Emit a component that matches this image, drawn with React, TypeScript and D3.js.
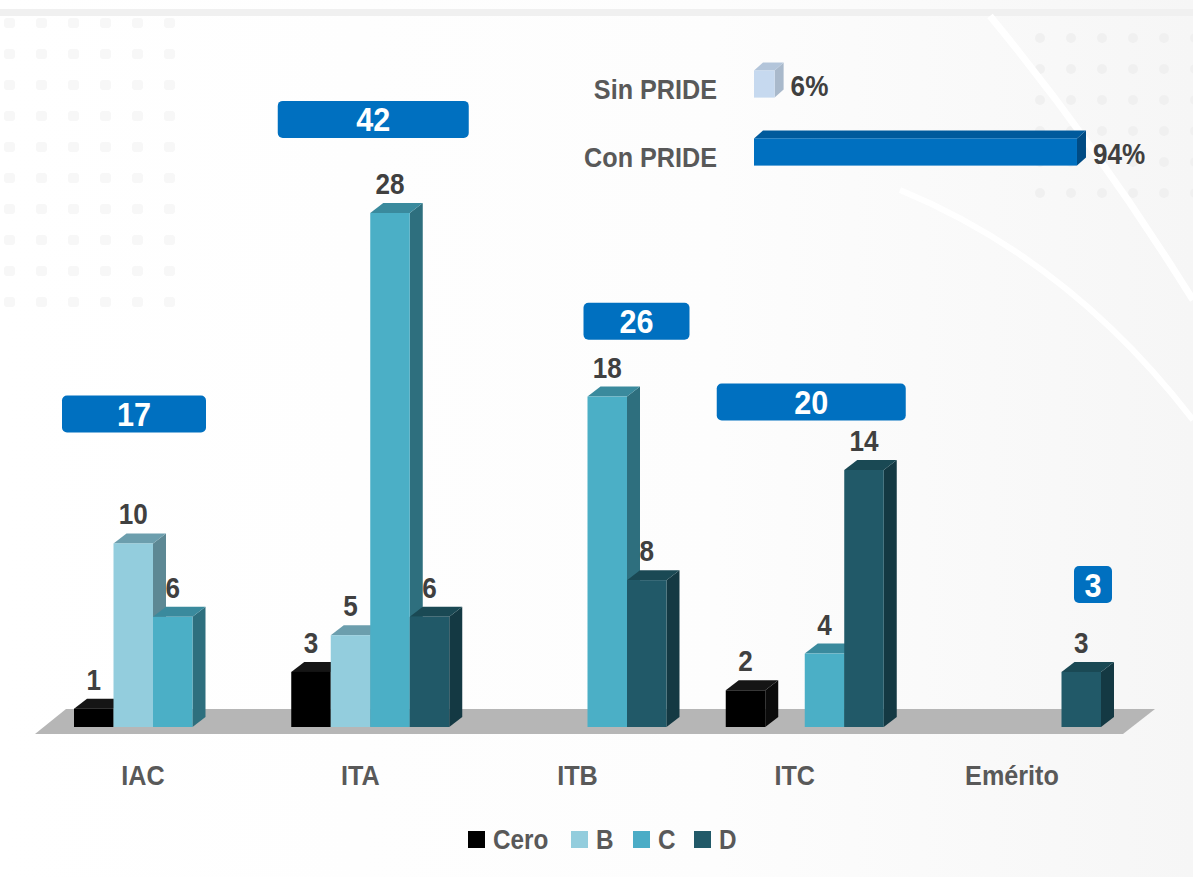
import React from "react";
import * as d3 from "d3";

// ── Data ──────────────────────────────────────────────────────────────────────

const categories = ["IAC", "ITA", "ITB", "ITC", "Emérito"];
const seriesNames = ["Cero", "B", "C", "D"];
const ceroValues: (number | null)[] = [1, 3, null, 2, null];
const bValues: (number | null)[] = [10, 5, null, null, null];
const cValues: (number | null)[] = [6, 28, 18, 4, null];
const dValues: (number | null)[] = [null, 6, 8, 14, 3];
const totals = [17, 42, 26, 20, 3];

const prideLabels = ["Sin PRIDE", "Con PRIDE"];
const prideValues = [6, 94];

// ── Layout / style ────────────────────────────────────────────────────────────

const W = 1193;
const H = 877;
const FONT = "'Liberation Sans', Arial, sans-serif";
const NARROW = 0.9; // horizontal squeeze to mimic a narrow bold face
const DX = 13; // bar depth
const DY = 10;

// total boxes: width, vertical level (data units) and horizontal shift from group center
const totalBoxWidth = [144, 191, 106, 189, 38];
const totalBoxLevel = [17.05, 33.1, 22.1, 17.7, 7.76];
const totalBoxShift = [-19, 3, 49, 6.5, 71];

const SERIES_COLORS: Record<string, { front: string; top: string; side: string; legend: string }> = {
  Cero: { front: "#000000", top: "#151515", side: "#0b0b0b", legend: "#000000" },
  B: { front: "#93cddd", top: "#6c9ead", side: "#5d8894", legend: "#93cddd" },
  C: { front: "#4bafc6", top: "#3a8a9d", side: "#2e6f7e", legend: "#4bacc6" },
  D: { front: "#215968", top: "#1a4954", side: "#143943", legend: "#215968" },
};

const PRIDE_COLORS = [
  { front: "#c6d9ef", top: "#b3c5da", side: "#a9b9cb" },
  { front: "#0070c0", top: "#005a9c", side: "#004b84" },
];

const seriesValues = [ceroValues, bValues, cValues, dValues];

// ── Helpers ───────────────────────────────────────────────────────────────────

function NText({
  x,
  y,
  size,
  fill,
  anchor = "start",
  children,
}: {
  x: number;
  y: number;
  size: number;
  fill: string;
  anchor?: "start" | "middle" | "end";
  children: React.ReactNode;
}) {
  return (
    <text
      transform={`translate(${x},${y}) scale(${NARROW},1)`}
      textAnchor={anchor}
      fontSize={size}
      fontWeight="bold"
      fill={fill}
    >
      {children}
    </text>
  );
}

function bar3d(
  key: string,
  bx: number,
  bw: number,
  top: number,
  bottom: number,
  col: { front: string; top: string; side: string },
  dx: number,
  dy: number
) {
  return (
    <g key={key}>
      <polygon
        points={`${bx + bw},${top} ${bx + bw + dx},${top - dy} ${bx + bw + dx},${bottom - dy} ${bx + bw},${bottom}`}
        fill={col.side}
      />
      <polygon
        points={`${bx},${top} ${bx + dx},${top - dy} ${bx + bw + dx},${top - dy} ${bx + bw},${top}`}
        fill={col.top}
      />
      <rect x={bx} y={top} width={bw} height={bottom - top} fill={col.front} />
    </g>
  );
}

// ── Component ─────────────────────────────────────────────────────────────────

export default function App() {
  const x = d3
    .scaleBand<string>()
    .domain(categories)
    .range([74, 1101])
    .paddingInner(0.2727)
    .paddingOuter(0);
  const slot = d3.scaleBand<string>().domain(seriesNames).range([0, x.bandwidth()]);
  const y = d3.scaleLinear().domain([0, 28]).range([727, 213]);
  const base = y(0);

  const [rx0, rx1] = x.range();
  const floor = [
    [rx0 - 39, base + 7],
    [rx1 + 22, base + 7],
    [rx1 + 22 + 32, base - 18],
    [rx0 - 39 + 31, base - 18],
  ];

  const xP = d3.scaleLinear().domain([0, 100]).range([754, 1097.6]);
  const yP = d3
    .scaleBand<string>()
    .domain(prideLabels)
    .range([50, 186])
    .paddingInner(0.6)
    .paddingOuter(0.3);

  // faint background dots
  const dotsLeft = d3.range(0, 6).flatMap((c) => d3.range(0, 10).map((r) => [4 + c * 32, 18 + r * 31]));
  const dotsRight = d3.range(0, 6).flatMap((c) => d3.range(0, 6).map((r) => [1040 + c * 31, 38 + r * 31]));

  return (
    <svg
      width={W}
      height={H}
      viewBox={`0 0 ${W} ${H}`}
      style={{ position: "absolute", left: 0, top: 0, display: "block" }}
      fontFamily={FONT}
    >
      <defs>
        <linearGradient id="bgRight" x1="0" x2="1" y1="0" y2="0">
          <stop offset="0" stopColor="#ffffff" />
          <stop offset="0.6" stopColor="#fdfdfd" />
          <stop offset="1" stopColor="#f6f6f6" />
        </linearGradient>
      </defs>

      {/* background */}
      <rect x={0} y={0} width={W} height={H} fill="url(#bgRight)" />
      <rect x={0} y={9} width={W} height={7} fill="#f0f0f0" />
      {dotsLeft.map(([cx, cy], i) => (
        <rect key={`dl${i}`} x={cx} y={cy} width={11} height={10} rx={3} fill="#f7f7f7" />
      ))}
      {dotsRight.map(([cx, cy], i) => (
        <circle key={`dr${i}`} cx={cx} cy={cy} r={5} fill="#f0f0f0" />
      ))}
      <path d="M 990 16 Q 1100 150 1193 300" fill="none" stroke="#ffffff" strokeWidth={7} />
      <path d="M 900 190 Q 1070 260 1193 420" fill="none" stroke="#ffffff" strokeWidth={6} />

      {/* floor */}
      <polygon points={floor.map((p) => p.join(",")).join(" ")} fill="#b6b6b6" />

      {/* bars */}
      {categories.map((cat, ci) => {
        const gx = x(cat) ?? 0;
        const bw = slot.bandwidth();
        return (
          <g key={cat}>
            {seriesNames.map((s, si) => {
              const v = seriesValues[si][ci];
              if (v == null) return null;
              const bx = gx + (slot(s) ?? 0);
              return bar3d(`${cat}-${s}`, bx, bw, y(v), base, SERIES_COLORS[s], DX, DY);
            })}
            {seriesNames.map((s, si) => {
              const v = seriesValues[si][ci];
              if (v == null) return null;
              const bx = gx + (slot(s) ?? 0);
              return (
                <NText key={`lbl-${cat}-${s}`} x={bx + bw / 2} y={y(v) - DY - 9} size={29} fill="#404040" anchor="middle">
                  {v}
                </NText>
              );
            })}
          </g>
        );
      })}

      {/* category labels */}
      {categories.map((cat) => (
        <NText
          key={`cat-${cat}`}
          x={(x(cat) ?? 0) + x.bandwidth() / 2 - 10}
          y={785}
          size={28}
          fill="#595959"
          anchor="middle"
        >
          {cat}
        </NText>
      ))}

      {/* total boxes */}
      {categories.map((cat, ci) => {
        const cx = (x(cat) ?? 0) + x.bandwidth() / 2 + totalBoxShift[ci];
        const cy = y(totalBoxLevel[ci]);
        const w = totalBoxWidth[ci];
        const h = 37;
        return (
          <g key={`tot-${cat}`}>
            <rect x={cx - w / 2} y={cy - h / 2} width={w} height={h} rx={5} fill="#0070c0" />
            <NText x={cx} y={cy + 12} size={34} fill="#ffffff" anchor="middle">
              {totals[ci]}
            </NText>
          </g>
        );
      })}

      {/* PRIDE inset */}
      {prideLabels.map((lab, i) => {
        const by = yP(lab) ?? 0;
        const bh = yP.bandwidth();
        const x0 = xP(0);
        const x1 = xP(prideValues[i]);
        const c = PRIDE_COLORS[i];
        return (
          <g key={lab}>
            <NText x={717} y={by + bh / 2 + 15} size={28} fill="#595959" anchor="end">
              {lab}
            </NText>
            <polygon
              points={`${x1},${by} ${x1 + 9},${by - 8} ${x1 + 9},${by + bh - 8} ${x1},${by + bh}`}
              fill={c.side}
            />
            <polygon points={`${x0},${by} ${x0 + 9},${by - 8} ${x1 + 9},${by - 8} ${x1},${by}`} fill={c.top} />
            <rect x={x0} y={by} width={x1 - x0} height={bh} fill={c.front} />
            <NText x={x1 + 16} y={by + bh / 2 + 12} size={29} fill="#404040">
              {prideValues[i]}%
            </NText>
          </g>
        );
      })}

      {/* legend */}
      {seriesNames.map((s, i) => {
        const legendX = [468, 571, 633, 694];
        return (
          <g key={`leg-${s}`}>
            <rect x={legendX[i]} y={831} width={17} height={17} fill={SERIES_COLORS[s].legend} />
            <NText x={legendX[i] + 25} y={849} size={27} fill="#595959">
              {s}
            </NText>
          </g>
        );
      })}
    </svg>
  );
}
